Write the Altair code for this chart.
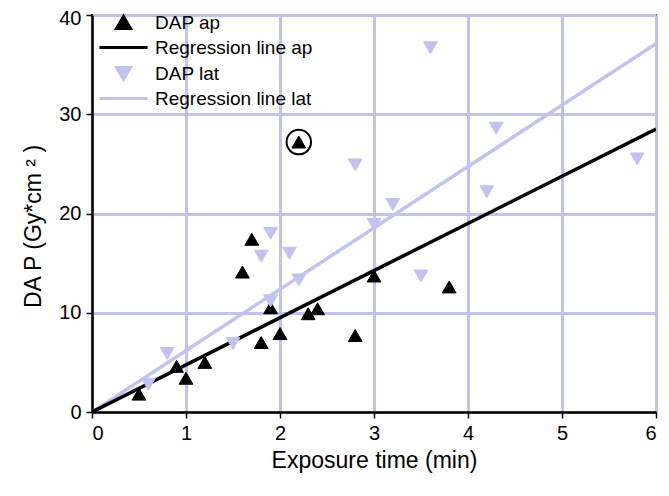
import altair as alt
import pandas as pd

# DAP ap (exposure time in min, DAP in Gy*cm^2)
ap_x = [0.5, 0.9, 1.0, 1.2, 1.6, 1.7, 1.8, 1.9, 2.0, 2.2, 2.3, 2.4, 2.8, 3.0, 3.8]
ap_y = [1.8, 4.6, 3.4, 5.0, 14.1, 17.4, 7.0, 10.5, 7.9, 27.2, 9.9, 10.4, 7.7, 13.7, 12.6]

# DAP lat
lat_x = [0.6, 0.8, 1.5, 1.8, 1.9, 1.9, 2.1, 2.2, 2.8, 3.0, 3.2, 3.5, 3.6, 4.2, 4.3, 5.8]
lat_y = [2.8, 5.9, 6.9, 15.7, 18.0, 11.2, 16.0, 13.3, 24.9, 18.9, 20.9, 13.7, 36.7, 22.2, 28.6, 25.5]

# Regression lines (through origin), endpoints
reg_x = [0, 6]
reg_ap_y = [0, 28.5]
reg_lat_y = [0, 37.1]

# Circled outlier
circ_x = [2.2]
circ_y = [27.2]

series = ["DAP ap", "Regression line ap", "DAP lat", "Regression line lat"]
LAV = "#c2c2f0"
colors = ["black", "black", LAV, LAV]
LINE_SYM = "M-3.4,0L3.4,0"
shapes = ["triangle-up", LINE_SYM, "triangle-down", LINE_SYM]

pts = pd.concat([
    pd.DataFrame({"x": ap_x, "y": ap_y, "s": "DAP ap", "o": 1}),
    pd.DataFrame({"x": lat_x, "y": lat_y, "s": "DAP lat", "o": 2}),
])
lines = pd.concat([
    pd.DataFrame({"x": reg_x, "y": reg_lat_y, "s": "Regression line lat"}),
    pd.DataFrame({"x": reg_x, "y": reg_ap_y, "s": "Regression line ap"}),
])
circ = pd.DataFrame({"x": circ_x, "y": circ_y})

FONT = "Liberation Sans"
xs = alt.Scale(domain=[0, 6], nice=False)
ys = alt.Scale(domain=[0, 40], nice=False)
xax = alt.Axis(values=[0, 1, 2, 3, 4, 5, 6], title="Exposure time (min)", format="d")
yax = alt.Axis(
    values=[0, 10, 20, 30, 40], title="DA P (Gy*cm ² )", format="d", titleY=211,
    labelOffset={"condition": {"test": "datum.value == 40", "value": 3}, "value": 0},
)

col_scale = alt.Scale(domain=series, range=colors)
shape_scale = alt.Scale(domain=series, range=shapes)

legend = alt.Legend(
    title=None, orient="none", legendX=22, legendY=-2,
    labelFontSize=19, labelFont=FONT, labelColor="black",
    symbolSize=200, symbolStrokeWidth=3, rowPadding=3, labelOffset=22,
    padding=0,
)

line_layer = alt.Chart(lines).mark_line(strokeWidth=3.5, clip=True).encode(
    x=alt.X("x:Q", scale=xs, axis=xax),
    y=alt.Y("y:Q", scale=ys, axis=yax),
    stroke=alt.Stroke("s:N", scale=col_scale, legend=legend),
    detail="s:N",
)

point_layer = alt.Chart(pts).mark_point(
    filled=True, size=190, strokeWidth=1, opacity=1
).encode(
    x=alt.X("x:Q", scale=xs),
    y=alt.Y("y:Q", scale=ys),
    fill=alt.Fill("s:N", scale=col_scale, legend=legend),
    stroke=alt.Stroke("s:N", scale=col_scale, legend=legend),
    shape=alt.Shape("s:N", scale=shape_scale, legend=legend),
    order=alt.Order("o:Q"),
)

circle_layer = alt.Chart(circ).mark_point(
    shape="circle", size=600, filled=False, color="black", strokeWidth=2, opacity=1
).encode(
    x=alt.X("x:Q", scale=xs),
    y=alt.Y("y:Q", scale=ys),
)

chart = alt.layer(line_layer, point_layer, circle_layer).properties(
    width=564, height=397,
    autosize=alt.AutoSizeParams(type="none"),
    padding={"left": 84, "top": 7, "right": 5, "bottom": 76},
).configure_view(
    stroke="black", strokeWidth=2
).configure_axis(
    grid=True, gridColor=LAV, gridWidth=3, gridOpacity=1,
    domainColor="black", domainWidth=2.5,
    tickColor="black", tickSize=6, tickWidth=1.5,
    labelFont=FONT, labelFontSize=20, labelColor="black",
    titleFont=FONT, titleFontSize=23, titleFontWeight="normal",
    titleColor="black",
).configure_axisX(
    labelPadding=5, titlePadding=6,
).configure_axisY(
    labelPadding=5, titlePadding=13,
)

chart.save("out.html", embed_options={"renderer": "svg", "actions": False})
